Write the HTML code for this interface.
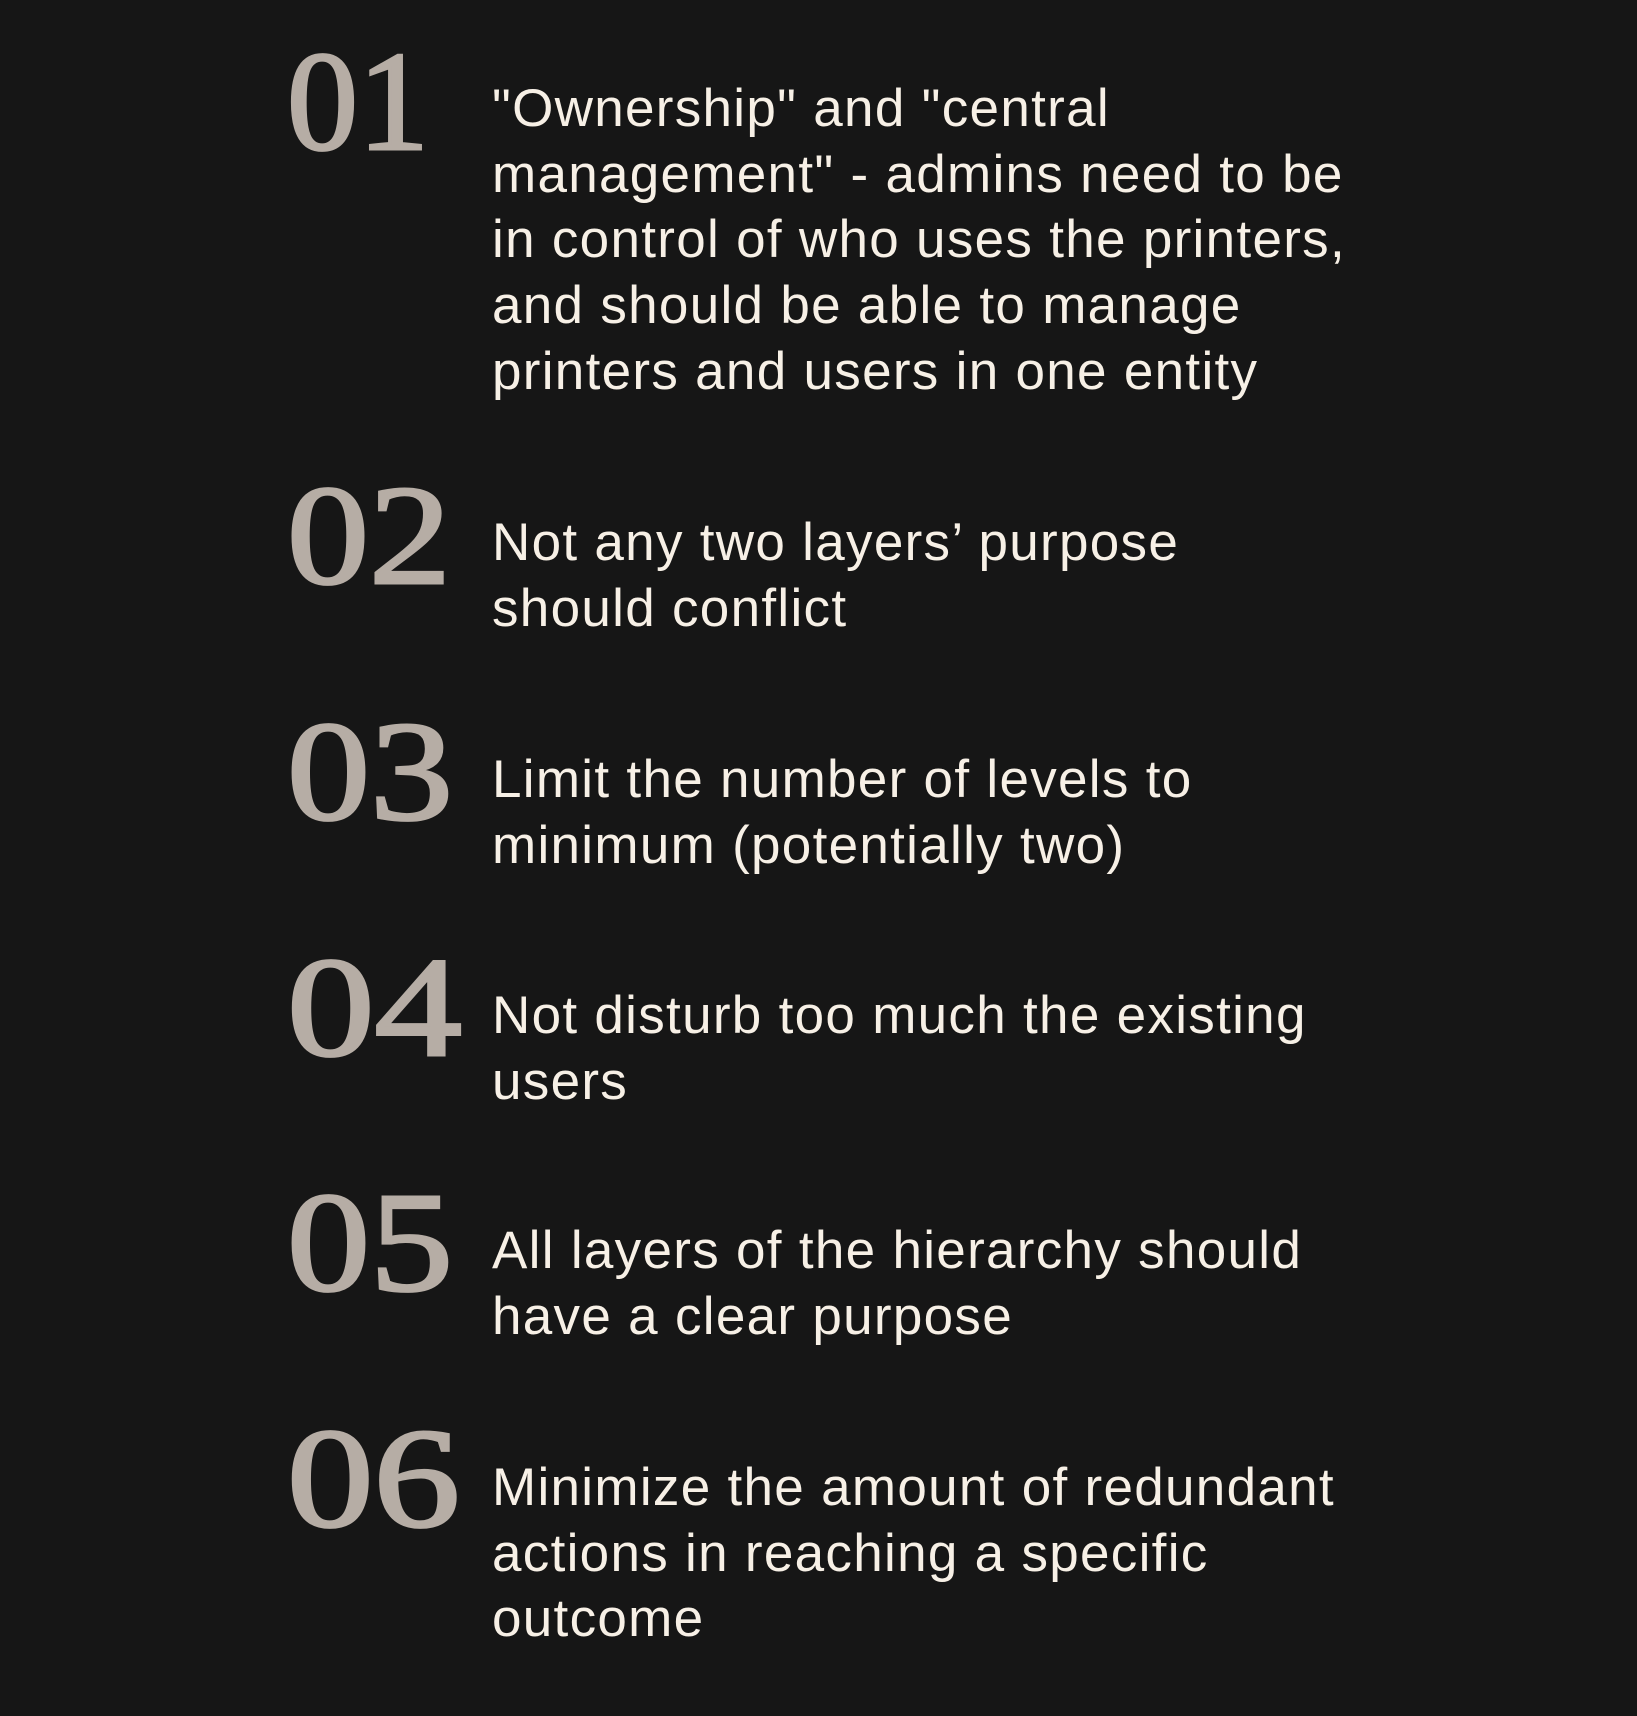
<!DOCTYPE html>
<html><head><meta charset="utf-8"><style>
html,body{margin:0;padding:0;background:#161616;width:1637px;height:1716px;overflow:hidden}
svg{display:block}
.n{font-family:"Liberation Serif",serif;font-size:142px;fill:#b6ada5;stroke:#b6ada5;stroke-width:3}
.t{font-family:"Liberation Sans",sans-serif;font-size:53px;fill:#f7f0e6;letter-spacing:1.3px}
</style></head><body>
<svg width="1637" height="1716" xmlns="http://www.w3.org/2000/svg">
<rect width="1637" height="1716" fill="#161616"/>
<text class="n" x="287" y="149" textLength="142" lengthAdjust="spacingAndGlyphs">01</text>
<text class="n" x="287" y="583" textLength="164" lengthAdjust="spacingAndGlyphs">02</text>
<text class="n" x="287" y="819" textLength="166" lengthAdjust="spacingAndGlyphs">03</text>
<text class="n" x="287" y="1055" textLength="175" lengthAdjust="spacingAndGlyphs">04</text>
<text class="n" x="287" y="1290" textLength="166" lengthAdjust="spacingAndGlyphs">05</text>
<text class="n" x="287" y="1526" textLength="173" lengthAdjust="spacingAndGlyphs">06</text>
<g class="t">
<text x="492" y="126">"Ownership" and "central</text>
<text x="492" y="192">management" - admins need to be</text>
<text x="492" y="257">in control of who uses the printers,</text>
<text x="492" y="323">and should be able to manage</text>
<text x="492" y="389">printers and users in one entity</text>
<text x="492" y="560">Not any two layers’ purpose</text>
<text x="492" y="626">should conflict</text>
<text x="492" y="797">Limit the number of levels to</text>
<text x="492" y="863">minimum (potentially two)</text>
<text x="492" y="1033">Not disturb too much the existing</text>
<text x="492" y="1099">users</text>
<text x="492" y="1268">All layers of the hierarchy should</text>
<text x="492" y="1334">have a clear purpose</text>
<text x="492" y="1505">Minimize the amount of redundant</text>
<text x="492" y="1571">actions in reaching a specific</text>
<text x="492" y="1636">outcome</text>
</g>
</svg>
</body></html>
